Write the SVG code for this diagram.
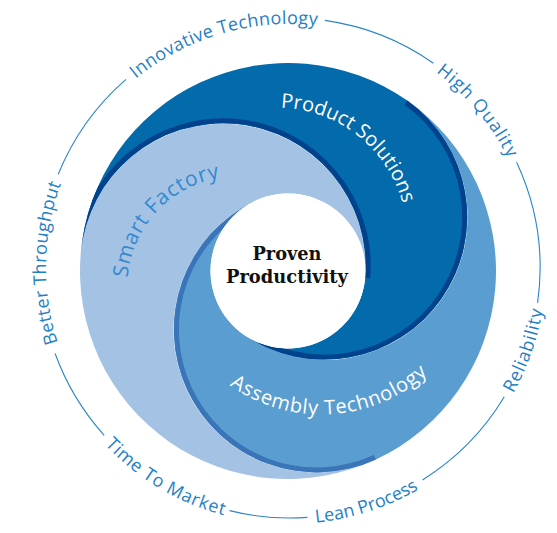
<svg xmlns="http://www.w3.org/2000/svg" xmlns:xlink="http://www.w3.org/1999/xlink" width="557" height="533" viewBox="0 0 557 533">
<style>
.ring{fill:none;stroke:#2a85c8;stroke-width:1.1}
.lbl{font-family:"Open Sans","Noto Sans",sans-serif;font-size:18px;fill:#1f80c6}
.arm{font-family:"Open Sans","Noto Sans",sans-serif;font-size:20px;fill:#ffffff}
.ctr{font-family:"DejaVu Serif",serif;font-weight:bold;font-size:18.5px;fill:#111111;text-anchor:middle}
</style>
<defs>
<path id="arm" d="M80.79,252.87 A208,208 0 0 1 407.30,100.62 A142.75,142.75 0 0 1 243.55,334.48 A77.5,77.5 0 0 0 365.20,277.75 A142.75,142.75 0 0 0 80.79,252.87 Z"/>
<path id="arcA" d="M365.20,277.75 A142.75,142.75 0 0 0 80.79,252.87"/>
<path id="arcB" d="M407.30,100.62 A142.75,142.75 0 0 1 243.55,334.48"/>
<clipPath id="clipDark"><use xlink:href="#arm"/></clipPath>
<clipPath id="clipMed"><use xlink:href="#arm" transform="rotate(120 288 271)"/></clipPath>
<path id="ps-path" d="M214.8,123 A131,131 0 0 1 403.4,271.2"/>
<path id="sf-path" d="M136.5,330.2 A110,110 0 0 1 272.6,182.2"/>
<path id="at-path" d="M199.6,357.6 A159,159 0 0 0 454.2,342.9"/>
<path id="it-path" d="M52.8,210.6 A244,244 0 0 1 458.3,91.3"/>
<path id="hq-path" d="M247.6,27.7 A244,244 0 0 1 519.3,351.4"/>
<path id="bt-path" d="M163.6,476.7 A244,244 0 0 1 172.4,54.2"/>
<path id="rel-path" d="M337.1,519.6 A256,256 0 0 0 484.4,101.4"/>
<path id="lp-path" d="M118.7,458.2 A256,256 0 0 0 540.4,321.2"/>
<path id="ttm-path" d="M34.0,264.9 A256,256 0 0 0 415.3,491.3"/>
</defs>
<rect width="557" height="533" fill="#ffffff"/>

<g id="smart-factory">
<use xlink:href="#arm" transform="rotate(240 288 271)" fill="#a4c2e4"/>
<text class="arm" style="fill:#3389cf;font-size:21px" text-anchor="middle"><textPath xlink:href="#sf-path" startOffset="50%" textLength="146" lengthAdjust="spacing">Smart Factory</textPath></text>
</g>

<g id="assembly-technology">
<use xlink:href="#arm" transform="rotate(120 288 271)" fill="#5a9dd0"/>
<g clip-path="url(#clipMed)"><use xlink:href="#arcB" transform="rotate(120 288 271)" fill="none" stroke="#3a74b9" stroke-width="10"/></g>
<text class="arm" text-anchor="middle"><textPath xlink:href="#at-path" startOffset="50%" textLength="214" lengthAdjust="spacing">Assembly Technology</textPath></text>
</g>

<g id="product-solutions">
<use xlink:href="#arm" fill="#036aab"/>
<g clip-path="url(#clipDark)" fill="none" stroke="#00428c" stroke-width="10">
<use xlink:href="#arcA"/>
<use xlink:href="#arcB"/>
</g>
<text class="arm" text-anchor="middle"><textPath xlink:href="#ps-path" startOffset="50%" textLength="166" lengthAdjust="spacing">Product Solutions</textPath></text>
</g>

<g id="center">
<circle cx="288" cy="271" r="77.5" fill="#ffffff"/>
<text class="ctr" x="287" y="260" textLength="69" lengthAdjust="spacingAndGlyphs">Proven</text>
<text class="ctr" x="287" y="283" textLength="122" lengthAdjust="spacingAndGlyphs">Productivity</text>
</g>

<g id="connectors">
<path class="ring" d="M58.2,174.3 A250,250 0 0 1 126.0,79.3"/>
<path class="ring" d="M324.8,20.4 A250,250 0 0 1 433.4,63.2"/>
<path class="ring" d="M516.6,162.3 A250,250 0 0 1 537.6,302.8"/>
<path class="ring" d="M504.3,396.8 A250,250 0 0 1 422.5,480.0"/>
<path class="ring" d="M307.4,517.4 A250,250 0 0 1 229.5,510.6"/>
<path class="ring" d="M104.2,435.3 A250,250 0 0 1 55.1,353.5"/>
</g>

<g id="innovative-technology"><text class="lbl" text-anchor="middle"><textPath xlink:href="#it-path" startOffset="50%" textLength="194" lengthAdjust="spacing">Innovative Technology</textPath></text></g>
<g id="high-quality"><text class="lbl" text-anchor="middle"><textPath xlink:href="#hq-path" startOffset="50%" textLength="113" lengthAdjust="spacing">High Quality</textPath></text></g>
<g id="reliability"><text class="lbl" text-anchor="middle"><textPath xlink:href="#rel-path" startOffset="50%" textLength="89" lengthAdjust="spacing">Reliability</textPath></text></g>
<g id="lean-process"><text class="lbl" text-anchor="middle"><textPath xlink:href="#lp-path" startOffset="50%" textLength="109" lengthAdjust="spacing">Lean Process</textPath></text></g>
<g id="time-to-market"><text class="lbl" text-anchor="middle"><textPath xlink:href="#ttm-path" startOffset="50%" textLength="140" lengthAdjust="spacing">Time To Market</textPath></text></g>
<g id="better-throughput"><text class="lbl" text-anchor="middle"><textPath xlink:href="#bt-path" startOffset="50%" textLength="162" lengthAdjust="spacing">Better Throughput</textPath></text></g>
</svg>
